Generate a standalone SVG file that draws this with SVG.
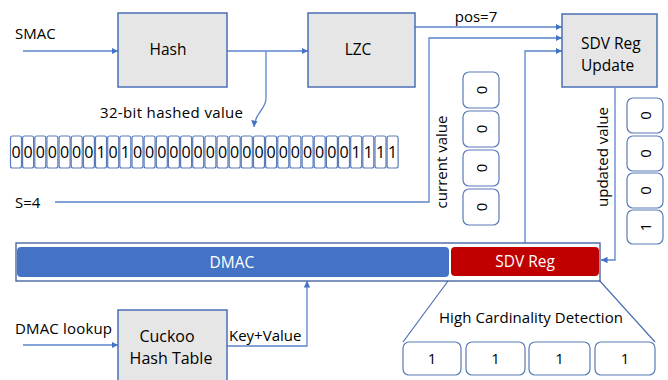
<svg xmlns="http://www.w3.org/2000/svg" width="668" height="380" viewBox="0 0 668 380">
<style>
text{font-family:"Open Sans","Liberation Sans",sans-serif;fill:#000;}
.box{fill:#e7e6e6;stroke:#4a6fb5;stroke-width:1.5;}
.ln{fill:none;stroke:#5b84cc;stroke-width:1.3;}
.cell{fill:#fff;stroke:#5a7bb8;stroke-width:1.2;}
.bit{font-size:16px;text-anchor:middle;}
.rb{font-size:15px;text-anchor:middle;}
.lbl{font-size:15px;}
.bx{font-size:15.5px;}
.ctr{text-anchor:middle;}
</style>
<defs>
<marker id="ah" viewBox="0 0 6 6" refX="6" refY="3" markerWidth="5" markerHeight="5" orient="auto"><path d="M0,0L6,3L0,6z" fill="#4472c4"/></marker>
</defs>
<g id="connectors">
<path class="ln" d="M23,51H118" marker-end="url(#ah)"/>
<path class="ln" d="M227,51H308" marker-end="url(#ah)"/>
<path class="ln" d="M266,51V98C266,110 255,112 254,127" marker-end="url(#ah)"/>
<path class="ln" d="M415,27H562" marker-end="url(#ah)"/>
<path class="ln" d="M55,202H429V38H562" marker-end="url(#ah)"/>
<path class="ln" d="M525,247V51H562" marker-end="url(#ah)"/>
<path class="ln" d="M615,88V260H601" marker-end="url(#ah)"/>
<path class="ln" d="M23,345H118" marker-end="url(#ah)"/>
<path class="ln" d="M227,346H307V281" marker-end="url(#ah)"/>
<path fill="none" stroke="#4a6fb5" stroke-width="1.2" d="M451,277L403,342M599,280L655,342"/>
</g>
<g id="smac"><text class="lbl" x="15" y="39">SMAC</text></g>
<g id="hash"><rect class="box" x="118" y="13" width="109" height="74"/><text x="168" y="55" class="bx ctr">Hash</text></g>
<g id="lzc"><rect class="box" x="308" y="13" width="107" height="74"/><text x="358" y="55" class="bx ctr">LZC</text></g>
<g id="pos"><text class="lbl ctr" x="476" y="22">pos=7</text></g>
<g id="sdvupdate"><rect class="box" x="562" y="14" width="95" height="73"/><text x="581" y="49" font-size="15.5">SDV Reg</text><text x="581" y="71" font-size="15.5">Update</text></g>
<g id="hashed-label"><text class="lbl" x="100" y="118" textLength="143">32-bit hashed  value</text></g>
<g id="bits">
<rect class="cell" x="10.5" y="136" width="11" height="32" rx="2"/><text class="bit" x="16" y="158">0</text>
<rect class="cell" x="22.6" y="136" width="11" height="32" rx="2"/><text class="bit" x="28.1" y="158">0</text>
<rect class="cell" x="34.8" y="136" width="11" height="32" rx="2"/><text class="bit" x="40.3" y="158">0</text>
<rect class="cell" x="46.9" y="136" width="11" height="32" rx="2"/><text class="bit" x="52.4" y="158">0</text>
<rect class="cell" x="59.1" y="136" width="11" height="32" rx="2"/><text class="bit" x="64.6" y="158">0</text>
<rect class="cell" x="71.2" y="136" width="11" height="32" rx="2"/><text class="bit" x="76.7" y="158">0</text>
<rect class="cell" x="83.4" y="136" width="11" height="32" rx="2"/><text class="bit" x="88.9" y="158">0</text>
<rect class="cell" x="95.5" y="136" width="11" height="32" rx="2"/><text class="bit" x="101" y="158">1</text>
<rect class="cell" x="107.7" y="136" width="11" height="32" rx="2"/><text class="bit" x="113.2" y="158">0</text>
<rect class="cell" x="119.8" y="136" width="11" height="32" rx="2"/><text class="bit" x="125.3" y="158">1</text>
<rect class="cell" x="132" y="136" width="11" height="32" rx="2"/><text class="bit" x="137.5" y="158">0</text>
<rect class="cell" x="144.1" y="136" width="11" height="32" rx="2"/><text class="bit" x="149.6" y="158">0</text>
<rect class="cell" x="156.3" y="136" width="11" height="32" rx="2"/><text class="bit" x="161.8" y="158">0</text>
<rect class="cell" x="168.4" y="136" width="11" height="32" rx="2"/><text class="bit" x="173.9" y="158">0</text>
<rect class="cell" x="180.6" y="136" width="11" height="32" rx="2"/><text class="bit" x="186.1" y="158">0</text>
<rect class="cell" x="192.7" y="136" width="11" height="32" rx="2"/><text class="bit" x="198.2" y="158">0</text>
<rect class="cell" x="204.9" y="136" width="11" height="32" rx="2"/><text class="bit" x="210.4" y="158">0</text>
<rect class="cell" x="217" y="136" width="11" height="32" rx="2"/><text class="bit" x="222.5" y="158">0</text>
<rect class="cell" x="229.2" y="136" width="11" height="32" rx="2"/><text class="bit" x="234.7" y="158">0</text>
<rect class="cell" x="241.3" y="136" width="11" height="32" rx="2"/><text class="bit" x="246.8" y="158">0</text>
<rect class="cell" x="253.5" y="136" width="11" height="32" rx="2"/><text class="bit" x="259" y="158">0</text>
<rect class="cell" x="265.6" y="136" width="11" height="32" rx="2"/><text class="bit" x="271.1" y="158">0</text>
<rect class="cell" x="277.8" y="136" width="11" height="32" rx="2"/><text class="bit" x="283.3" y="158">0</text>
<rect class="cell" x="289.9" y="136" width="11" height="32" rx="2"/><text class="bit" x="295.4" y="158">0</text>
<rect class="cell" x="302.1" y="136" width="11" height="32" rx="2"/><text class="bit" x="307.6" y="158">0</text>
<rect class="cell" x="314.2" y="136" width="11" height="32" rx="2"/><text class="bit" x="319.7" y="158">0</text>
<rect class="cell" x="326.4" y="136" width="11" height="32" rx="2"/><text class="bit" x="331.9" y="158">0</text>
<rect class="cell" x="338.5" y="136" width="11" height="32" rx="2"/><text class="bit" x="344" y="158">0</text>
<rect class="cell" x="350.7" y="136" width="11" height="32" rx="2"/><text class="bit" x="356.2" y="158">1</text>
<rect class="cell" x="362.8" y="136" width="11" height="32" rx="2"/><text class="bit" x="368.3" y="158">1</text>
<rect class="cell" x="375" y="136" width="11" height="32" rx="2"/><text class="bit" x="380.5" y="158">1</text>
<rect class="cell" x="387.1" y="136" width="11" height="32" rx="2"/><text class="bit" x="392.6" y="158">1</text>
</g>
<g id="s4"><text class="lbl" x="15" y="208">S=4</text></g>
<g id="current-value">
<text class="lbl ctr" transform="translate(447,162) rotate(-90)">current value</text>
<rect class="cell" x="463" y="72" width="36" height="36" rx="6"/><text class="rb" transform="translate(486.5,90) rotate(-90)">0</text>
<rect class="cell" x="463" y="111" width="36" height="36" rx="6"/><text class="rb" transform="translate(486.5,129) rotate(-90)">0</text>
<rect class="cell" x="463" y="150" width="36" height="36" rx="6"/><text class="rb" transform="translate(486.5,168) rotate(-90)">0</text>
<rect class="cell" x="463" y="189" width="36" height="36" rx="6"/><text class="rb" transform="translate(486.5,207) rotate(-90)">0</text>
</g>
<g id="updated-value">
<text class="lbl ctr" transform="translate(608,157) rotate(-90)">updated value</text>
<rect class="cell" x="627" y="98" width="36" height="35" rx="6"/><text class="rb" transform="translate(650.5,115.5) rotate(-90)">0</text>
<rect class="cell" x="627" y="136" width="36" height="35" rx="6"/><text class="rb" transform="translate(650.5,153.5) rotate(-90)">0</text>
<rect class="cell" x="627" y="173" width="36" height="35" rx="6"/><text class="rb" transform="translate(650.5,190.5) rotate(-90)">0</text>
<rect class="cell" x="627" y="210" width="36" height="34" rx="6"/><text class="rb" transform="translate(650.5,227) rotate(-90)">1</text>
</g>
<g id="bar">
<rect x="16" y="243" width="584" height="38" fill="#fff" stroke="#3a5a9c" stroke-width="1.3"/>
<rect x="17" y="247" width="432" height="30" rx="4" fill="#4472c4"/>
<text x="232" y="268" class="bx ctr" style="fill:#fff">DMAC</text>
</g>
<g id="sdvreg">
<rect x="451" y="247" width="148" height="29" rx="4" fill="#c00000"/>
<text x="525" y="267" class="bx ctr" style="fill:#fff">SDV Reg</text>
</g>
<g id="dmac-lookup"><text class="lbl" x="15" y="334" textLength="97">DMAC lookup</text></g>
<g id="cuckoo"><rect class="box" x="118" y="310" width="109" height="80"/><text x="167" y="342" class="ctr" font-size="16">Cuckoo</text><text x="171" y="364" class="ctr" font-size="16">Hash Table</text></g>
<g id="keyvalue"><text class="lbl" x="229" y="341">Key+Value</text></g>
<g id="hcd">
<text class="lbl ctr" x="531" y="323" textLength="184">High Cardinality Detection</text>
<rect class="cell" x="403" y="342" width="58" height="33" rx="6"/><text class="rb" x="432" y="364">1</text>
<rect class="cell" x="466" y="342" width="59" height="33" rx="6"/><text class="rb" x="495.5" y="364">1</text>
<rect class="cell" x="529" y="342" width="61" height="33" rx="6"/><text class="rb" x="559.5" y="364">1</text>
<rect class="cell" x="595" y="342" width="60" height="33" rx="6"/><text class="rb" x="625" y="364">1</text>
</g>
</svg>
